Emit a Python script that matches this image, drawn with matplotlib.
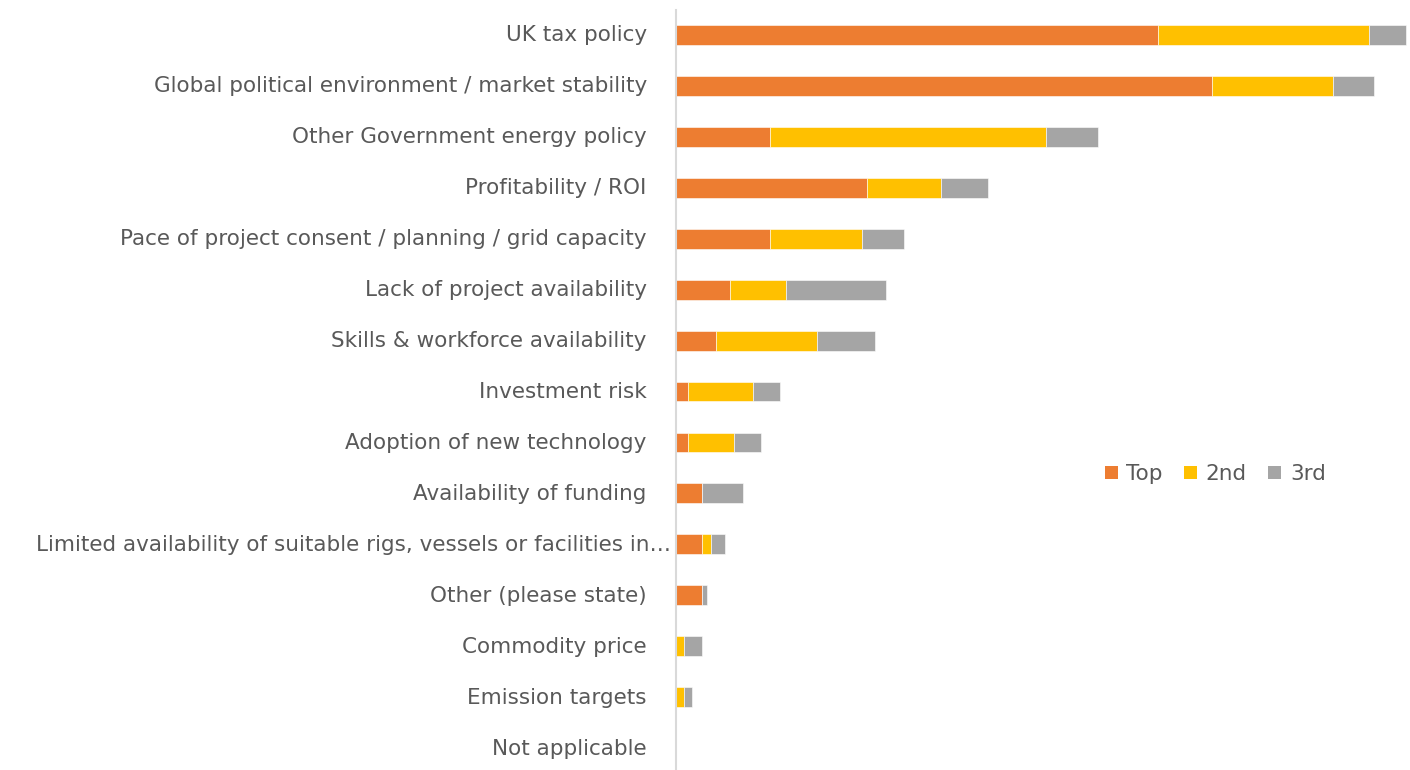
import matplotlib
matplotlib.use("Agg")
import matplotlib.pyplot as plt
import matplotlib.transforms as mtransforms
from matplotlib.patches import Patch

categories = [
    "UK tax policy",
    "Global political environment / market stability",
    "Other Government energy policy",
    "Profitability / ROI",
    "Pace of project consent / planning / grid capacity",
    "Lack of project availability",
    "Skills & workforce availability",
    "Investment risk",
    "Adoption of new technology",
    "Availability of funding",
    "Limited availability of suitable rigs, vessels or facilities in…",
    "Other (please state)",
    "Commodity price",
    "Emission targets",
    "Not applicable",
]
top = [60.2, 67.0, 11.8, 23.9, 11.8, 6.7, 5.0, 1.5, 1.5, 3.2, 3.2, 3.2, 0.0, 0.0, 0.0]
second = [26.4, 15.1, 34.5, 9.2, 11.5, 7.0, 12.6, 8.1, 5.7, 0.0, 1.2, 0.0, 1.0, 1.0, 0.0]
third = [4.6, 5.1, 6.4, 5.9, 5.2, 12.6, 7.3, 3.4, 3.4, 5.2, 1.7, 0.7, 2.2, 1.0, 0.0]
series_names = ["Top", "2nd", "3rd"]
colors = ["#ED7D31", "#FFC000", "#A5A5A5"]
text_color = "#595959"

plt.rcParams["font.family"] = ["DejaVu Sans"]

W, H = 1410, 770
fig = plt.figure(figsize=(W / 100, H / 100), dpi=100)
left_px, right_px, top_px, bottom_px = 676, 1410, 10, 770
ax = fig.add_axes([left_px / W, 1 - bottom_px / H, (right_px - left_px) / W, (bottom_px - top_px) / H])

y = list(range(len(categories)))
lefts = [0.0] * len(categories)
for vals, name, c in zip([top, second, third], series_names, colors):
    ax.barh(y, vals, left=lefts, height=0.39, color=c, label=name,
            edgecolor="white", linewidth=0.4)
    lefts = [a + b for a, b in zip(lefts, vals)]

ax.set_ylim(14.43, -0.49)
ax.set_xlim(0, (right_px - left_px) / 8.0)
ax.set_yticks(y)
ax.set_yticklabels(categories, fontsize=15.5, color=text_color)
ax.tick_params(axis="y", length=0, pad=21)
ax.set_xticks([])
for s in ["top", "right", "bottom"]:
    ax.spines[s].set_visible(False)
ax.spines["left"].set_color("#D9D9D9")
ax.spines["left"].set_linewidth(1.5)

# nudge labels up slightly; the truncated label runs closer to the axis
for i, lbl in enumerate(ax.get_yticklabels()):
    dx = 24 / 100 if i == 10 else 0
    lbl.set_transform(lbl.get_transform() + mtransforms.ScaledTranslation(dx, 1.5 / 100, fig.dpi_scale_trans))

handles = [Patch(facecolor=c, label=n) for c, n in zip(colors, series_names)]
leg = ax.legend(handles=handles, loc="center left",
                bbox_to_anchor=((1096 - left_px) / (right_px - left_px), 1 - (474 - top_px) / (bottom_px - top_px)),
                ncol=3, frameon=False, fontsize=15.5, handlelength=0.6, handleheight=0.6,
                handletextpad=0.4, columnspacing=1.0, labelcolor=text_color, borderaxespad=0)

fig.savefig("out.png", dpi=100)
